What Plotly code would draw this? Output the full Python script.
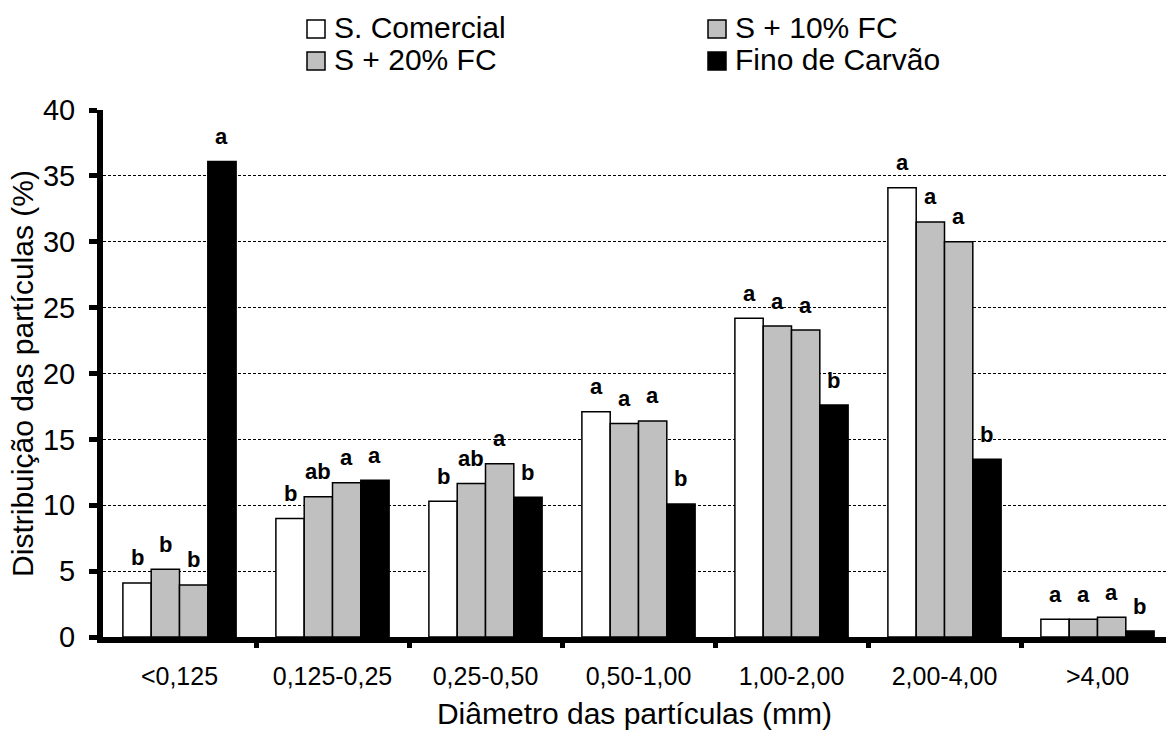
import plotly.graph_objects as go

categories = ["<0,125", "0,125-0,25", "0,25-0,50", "0,50-1,00", "1,00-2,00", "2,00-4,00", ">4,00"]
series_names = ["S. Comercial", "S + 10% FC", "S + 20% FC", "Fino de Carvão"]
s_comercial = [4.1, 9.0, 10.3, 17.1, 24.2, 34.1, 1.35]
s_10fc = [5.15, 10.65, 11.65, 16.2, 23.6, 31.5, 1.35]
s_20fc = [3.95, 11.7, 13.15, 16.4, 23.3, 30.0, 1.5]
fino_carvao = [36.1, 11.9, 10.6, 10.1, 17.6, 13.5, 0.45]
letters_comercial = ["b", "b", "b", "a", "a", "a", "a"]
letters_10fc = ["b", "ab", "ab", "a", "a", "a", "a"]
letters_20fc = ["b", "a", "a", "a", "a", "a", "a"]
letters_carvao = ["a", "a", "b", "b", "b", "b", "b"]
y_ticks = [0, 5, 10, 15, 20, 25, 30, 35, 40]

values = [s_comercial, s_10fc, s_20fc, fino_carvao]
letters = [letters_comercial, letters_10fc, letters_20fc, letters_carvao]
fills = ["#FFFFFF", "#C0C0C0", "#C0C0C0", "#000000"]

W, H = 1166, 737
L, R, T, B = 103, 0, 110, 100
PW, PH = W - L - R, H - T - B
cat_px = 153.0
x_lo = -0.5
x_hi = x_lo + PW / cat_px

bar_w = 0.185
group_w = 4 * bar_w
FONT = "Liberation Sans, Arial, sans-serif"

xs = list(range(len(categories)))
fig = go.Figure()
for k, (name, vals) in enumerate(zip(series_names, values)):
    off = -group_w / 2 + k * bar_w
    fig.add_trace(go.Bar(
        x=xs, y=vals, name=name, width=bar_w, offset=off,
        marker=dict(color=fills[k], line=dict(color="#000000", width=1.5)),
        showlegend=False,
    ))
    for i, (v, t) in enumerate(zip(vals, letters[k])):
        fig.add_annotation(
            x=i + off + bar_w / 2, y=v, text=t, showarrow=False,
            xref="x", yref="y", yanchor="middle", yshift=25,
            font=dict(family=FONT, size=22, color="#000000", weight="bold"),
        )

# manual legend (two columns)
def px_x(p):
    return (p - L) / PW

def px_y(p):
    return (H - B - p) / PH

legend_items = [
    (series_names[0], fills[0], 307, 29),
    (series_names[2], fills[2], 307, 61),
    (series_names[1], fills[1], 708, 29),
    (series_names[3], fills[3], 708, 61),
]
for name, col, lx, ly in legend_items:
    fig.add_shape(type="rect", xref="paper", yref="paper",
                  x0=px_x(lx), x1=px_x(lx + 18), y0=px_y(ly + 9), y1=px_y(ly - 9),
                  fillcolor=col, line=dict(color="#000000", width=1.5))
    fig.add_annotation(x=px_x(lx + 25), y=px_y(ly - 2), xref="paper", yref="paper",
                       text=name, showarrow=False, xanchor="left", yanchor="middle",
                       font=dict(family=FONT, size=30, color="#000000"))

fig.update_layout(
    width=W, height=H,
    margin=dict(l=L, r=R, t=T, b=B, pad=0),
    paper_bgcolor="white", plot_bgcolor="white",
    barmode="overlay",
    font=dict(family=FONT, color="#000000"),
    xaxis=dict(
        range=[x_lo, x_hi], tickmode="array", tickvals=xs, ticktext=categories,
        ticks="", showgrid=False, zeroline=False,
        showline=True, linecolor="#000000", linewidth=6,
        tickfont=dict(family=FONT, size=25, color="#000000"),
        ticklabelstandoff=12,
        minor=dict(tickmode="array", tickvals=[i + 0.5 for i in xs[:-1]],
                   ticks="outside", ticklen=5, tickwidth=5, tickcolor="#000000",
                   showgrid=False),
        title=dict(text="Diâmetro das partículas (mm)", standoff=16,
                   font=dict(family=FONT, size=30, color="#000000")),
    ),
    yaxis=dict(
        range=[0, 40], tickmode="array", tickvals=y_ticks,
        ticks="outside", ticklen=8, tickwidth=5, tickcolor="#000000",
        showgrid=True, gridcolor="#000000", gridwidth=1, griddash="3px,2px",
        zeroline=False,
        showline=True, linecolor="#000000", linewidth=6,
        tickfont=dict(family=FONT, size=29, color="#000000"),
        ticklabelstandoff=8,
        title=dict(text="Distribuição das partículas (%)", standoff=2,
                   font=dict(family=FONT, size=30, color="#000000")),
    ),
)

fig.write_html("out.html")
